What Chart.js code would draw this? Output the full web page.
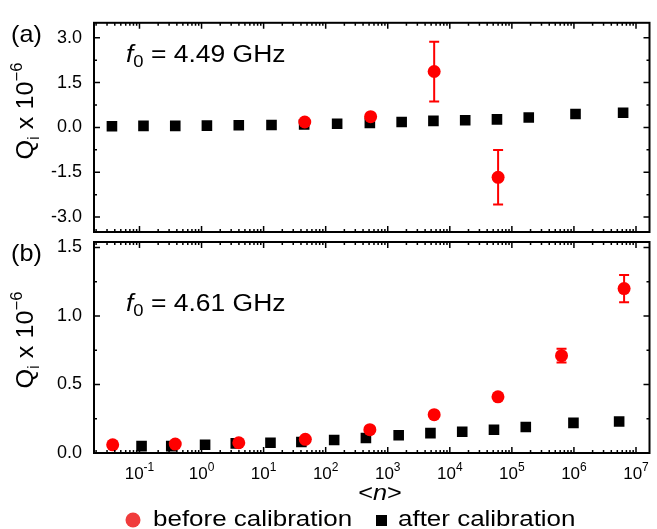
<!DOCTYPE html>
<html>
<head>
<meta charset="utf-8">
<script src="https://cdn.jsdelivr.net/npm/chart.js@4.4.0/dist/chart.umd.min.js"></script>
<style>
body { margin: 0; background: #fff; }
#wrap { position: relative; width: 657px; height: 529px; }
canvas { position: absolute; left: 0; top: 0; }
</style>
</head>
<body>
<div id="wrap">
  <canvas id="chartA" width="657" height="529"></canvas>
  <canvas id="chartB" width="657" height="529"></canvas>
</div>
<script>
// panel (a), f0 = 4.49 GHz
const aAfterN = [0.036, 0.116, 0.377, 1.22, 3.98, 13.4, 45, 153, 515, 1675, 5445, 17700, 57500, 187000, 1.06e6, 6.2e6];
const aAfterQ = [0.04, 0.05, 0.05, 0.06, 0.07, 0.08, 0.10, 0.12, 0.15, 0.18, 0.22, 0.24, 0.27, 0.33, 0.45, 0.49];
const aBeforeN = [46, 530, 5600, 60000];
const aBeforeQ = [0.18, 0.36, 1.87, -1.67];
const aBeforeErr = [0, 0, 1.0, 0.91];

// panel (b), f0 = 4.61 GHz
const bAfterN = [0.108, 0.325, 1.14, 3.56, 12.9, 40.6, 137, 445, 1500, 4875, 15850, 51500, 167500, 982000, 5.35e6];
const bAfterQ = [0.05, 0.05, 0.06, 0.07, 0.075, 0.08, 0.095, 0.11, 0.13, 0.145, 0.155, 0.17, 0.19, 0.22, 0.23];
const bBeforeN = [0.037, 0.377, 3.98, 47, 515, 5600, 59700, 631000, 6.43e6];
const bBeforeQ = [0.06, 0.065, 0.075, 0.10, 0.17, 0.28, 0.41, 0.71, 1.20];
const bBeforeErr = [0, 0, 0, 0, 0, 0, 0, 0.05, 0.10];

const xTickPowers = [-1, 0, 1, 2, 3, 4, 5, 6, 7];
const aYTicks = [-3, -1.5, 0, 1.5, 3];
const aYMinor = [-2.25, -0.75, 0.75, 2.25];
const bYTicks = [0, 0.5, 1, 1.5];
const bYMinor = [0.25, 0.75, 1.25];
const seriesNames = ['before calibration', 'after calibration'];

const FONT = '"Liberation Sans", Arial, sans-serif';
const RED = '#ff0000';

function pts(xs, ys) {
  return xs.map((x, i) => ({ x: x, y: ys[i] }));
}

// draw text made of pieces (sub/superscripts, italics), optionally stretched sideways
function drawRich(ctx, parts, x, y, align, sx) {
  ctx.save();
  ctx.translate(x, y);
  ctx.scale(sx || 1, 1);
  ctx.textBaseline = 'alphabetic';
  ctx.textAlign = 'left';
  ctx.fillStyle = '#000';
  let total = 0;
  parts.forEach(p => {
    ctx.font = (p.it ? 'italic ' : '') + p.size + 'px ' + FONT;
    p.w = ctx.measureText(p.t).width;
    total += p.w;
  });
  let cx = align === 'center' ? -total / 2 : 0;
  parts.forEach(p => {
    ctx.font = (p.it ? 'italic ' : '') + p.size + 'px ' + FONT;
    ctx.fillText(p.t, cx, p.dy || 0);
    cx += p.w;
  });
  ctx.restore();
}

// frame, inward ticks, error bars and all labels
function panelPlugin(cfg) {
  return {
    id: 'panel' + cfg.tag,
    beforeDatasetsDraw(chart) {
      const ctx = chart.ctx, xs = chart.scales.x, ys = chart.scales.y;
      ctx.save();
      ctx.strokeStyle = RED;
      ctx.lineWidth = 2;
      chart.data.datasets.forEach(ds => {
        if (!ds.err) return;
        ds.data.forEach((p, i) => {
          const e = ds.err[i];
          if (!e) return;
          const px = xs.getPixelForValue(p.x);
          const y1 = ys.getPixelForValue(p.y + e), y2 = ys.getPixelForValue(p.y - e);
          ctx.beginPath();
          ctx.moveTo(px, y1); ctx.lineTo(px, y2);
          ctx.moveTo(px - 5, y1); ctx.lineTo(px + 5, y1);
          ctx.moveTo(px - 5, y2); ctx.lineTo(px + 5, y2);
          ctx.stroke();
        });
      });
      ctx.restore();
    },
    afterDraw(chart) {
      const ctx = chart.ctx, a = chart.chartArea;
      const xs = chart.scales.x, ys = chart.scales.y;
      ctx.save();
      ctx.strokeStyle = '#000';
      // ticks
      ctx.lineWidth = 1.5;
      ctx.beginPath();
      for (let d = -2; d <= 7; d++) {
        for (let m = 1; m <= 9; m++) {
          const v = m * Math.pow(10, d);
          if (v < xs.min || v > xs.max) continue;
          const px = xs.getPixelForValue(v);
          const len = m === 1 ? 6 : 3;
          ctx.moveTo(px, a.bottom); ctx.lineTo(px, a.bottom - len);
          ctx.moveTo(px, a.top); ctx.lineTo(px, a.top + len);
        }
      }
      cfg.yTicks.concat(cfg.yMinor).forEach((v, i) => {
        const py = ys.getPixelForValue(v);
        const len = i < cfg.yTicks.length ? 6 : 3;
        ctx.moveTo(a.left, py); ctx.lineTo(a.left + len, py);
        ctx.moveTo(a.right, py); ctx.lineTo(a.right - len, py);
      });
      ctx.stroke();
      // frame
      ctx.lineWidth = 2;
      ctx.strokeRect(a.left, a.top, a.right - a.left, a.bottom - a.top);
      ctx.restore();

      // panel letter
      drawRich(ctx, [{ t: cfg.tag, size: 24 }], 11, a.top + 19, 'left', 1.05);
      // resonance frequency
      drawRich(ctx, [
        { t: 'f', size: 23, it: true },
        { t: '0', size: 16, dy: 5 },
        { t: ' = ' + cfg.freq + ' GHz', size: 23 }
      ], 126, cfg.freqY, 'left', 1.15);
      // y title
      ctx.save();
      ctx.translate(33, cfg.titleY);
      ctx.rotate(-Math.PI / 2);
      drawRich(ctx, [
        { t: 'Q', size: 24 },
        { t: 'i', size: 16, dy: 6 },
        { t: ' x 10', size: 24 },
        { t: '\u22126', size: 16, dy: -11 }
      ], 0, 0, 'center', 1.05);
      ctx.restore();

      if (!cfg.bottom) return;
      // x tick labels
      xTickPowers.forEach(p => {
        const px = xs.getPixelForValue(Math.pow(10, p));
        drawRich(ctx, [
          { t: '10', size: 17 },
          { t: String(p), size: 12, dy: -8 }
        ], px, 479, 'center', 1);
      });
      // x title
      drawRich(ctx, [
        { t: '<', size: 22 },
        { t: 'n', size: 22, it: true },
        { t: '>', size: 22 }
      ], 380, 500, 'center', 1.15);
      // legend
      ctx.save();
      ctx.fillStyle = '#f03c3c';
      ctx.beginPath();
      ctx.arc(133, 520, 7.5, 0, Math.PI * 2);
      ctx.fill();
      ctx.fillStyle = '#000';
      ctx.fillRect(376, 515, 11, 11);
      ctx.restore();
      drawRich(ctx, [{ t: seriesNames[0], size: 22 }], 153, 526, 'left', 1.18);
      drawRich(ctx, [{ t: seriesNames[1], size: 22 }], 398, 526, 'left', 1.18);
    }
  };
}

function makePanel(id, cfg) {
  return new Chart(document.getElementById(id), {
    type: 'scatter',
    data: {
      datasets: [
        {
          label: seriesNames[0],
          data: pts(cfg.beforeN, cfg.beforeQ),
          err: cfg.beforeErr,
          pointStyle: 'circle',
          pointRadius: 6.5,
          backgroundColor: RED,
          borderWidth: 0
        },
        {
          label: seriesNames[1],
          data: pts(cfg.afterN, cfg.afterQ),
          pointStyle: 'rect',
          pointRadius: 7.5,
          backgroundColor: '#000',
          borderWidth: 0
        }
      ]
    },
    options: {
      responsive: false,
      animation: false,
      events: [],
      layout: { padding: cfg.padding },
      plugins: { legend: { display: false }, tooltip: { enabled: false } },
      scales: {
        x: { type: 'logarithmic', min: 0.0185, max: 1.65e7, display: false },
        y: {
          min: cfg.yMin, max: cfg.yMax,
          afterBuildTicks: s => { s.ticks = cfg.yTicks.map(v => ({ value: v })); },
          afterFit: s => { s.width = 94; },
          grid: { display: false, drawTicks: false },
          border: { display: false },
          ticks: {
            padding: 12,
            color: '#000',
            font: { family: FONT, size: 18 },
            callback: v => Number(v).toFixed(1)
          }
        }
      }
    },
    plugins: [panelPlugin(cfg)]
  });
}

makePanel('chartA', {
  tag: '(a)', freq: '4.49', freqY: 62, titleY: 111, bottom: false,
  afterN: aAfterN, afterQ: aAfterQ,
  beforeN: aBeforeN, beforeQ: aBeforeQ, beforeErr: aBeforeErr,
  yMin: -3.5, yMax: 3.5, yTicks: aYTicks, yMinor: aYMinor,
  padding: { top: 13, bottom: 297, left: 0, right: 2 }
});

makePanel('chartB', {
  tag: '(b)', freq: '4.61', freqY: 311, titleY: 340, bottom: true,
  afterN: bAfterN, afterQ: bAfterQ,
  beforeN: bBeforeN, beforeQ: bBeforeQ, beforeErr: bBeforeErr,
  yMin: 0, yMax: 1.54, yTicks: bYTicks, yMinor: bYMinor,
  padding: { top: 242, bottom: 76, left: 0, right: 2 }
});
</script>
</body>
</html>
